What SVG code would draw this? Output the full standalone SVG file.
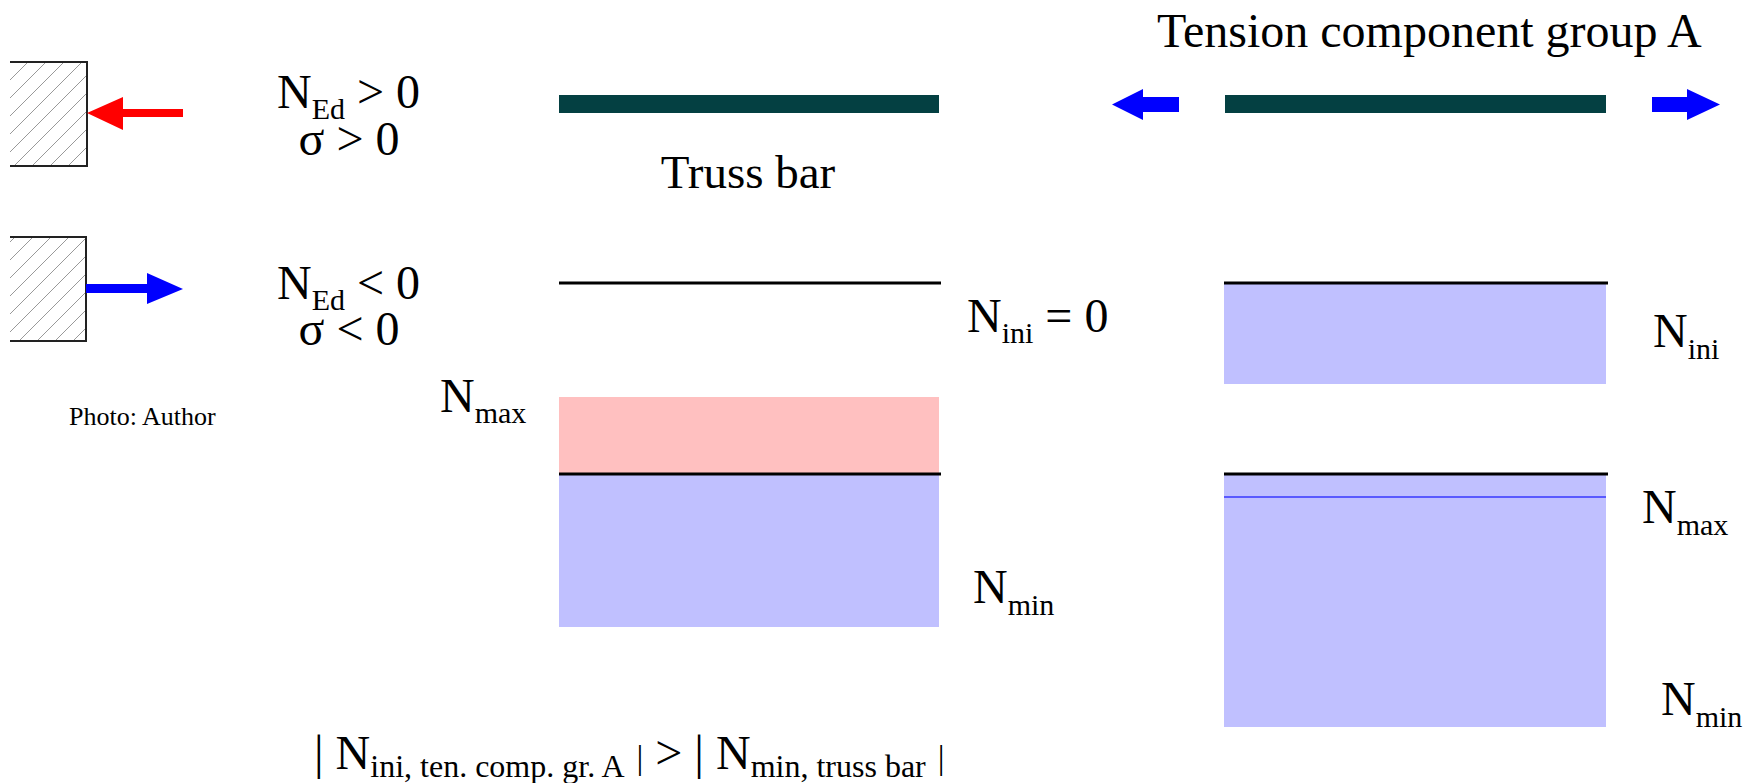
<svg xmlns="http://www.w3.org/2000/svg" width="1756" height="783" viewBox="0 0 1756 783">
<style>
.t{font-family:"Liberation Serif","Times New Roman",serif;font-size:48px;fill:#000}
.s{font-size:30px}
.bar{fill:#044042}
.blk{stroke:#000;stroke-width:3}
.box{fill:none;stroke:#222;stroke-width:2}
</style>
<defs>
<pattern id="hatch" patternUnits="userSpaceOnUse" width="18" height="18">
<path d="M-2,2 L2,-2 M0,18 L18,0 M16,20 L20,16" stroke="#999" stroke-width="1"/>
</pattern>
</defs>
<rect width="1756" height="783" fill="#fff"/>

<g id="support-compression">
<rect x="10" y="62" width="77" height="104" fill="url(#hatch)"/>
<path class="box" d="M10,62 H87 V166 H10"/>
</g>
<g id="support-tension">
<rect x="10" y="237" width="76" height="104" fill="url(#hatch)"/>
<path class="box" d="M10,237 H86 V341 H10"/>
</g>

<g id="connectors">
<polygon fill="#ff0000" points="87,113 123,97 123,109 183,109 183,117 123,117 123,130"/>
<polygon fill="#0000ff" points="86,284 147,284 147,273 183,289 147,304 147,293 86,293"/>
<polygon fill="#0000ff" points="1112,104.5 1143,89 1143,97 1179,97 1179,112 1143,112 1143,120"/>
<polygon fill="#0000ff" points="1720,104.5 1687,89 1687,97 1652,97 1652,112 1687,112 1687,120"/>
</g>

<g id="label-compression">
<text class="t" x="277" y="108">N<tspan class="s" dy="11">Ed</tspan><tspan dy="-11"> &gt; 0</tspan></text>
<text class="t" x="349" y="155" text-anchor="middle">σ &gt; 0</text>
</g>
<g id="label-tension">
<text class="t" x="277" y="299">N<tspan class="s" dy="11">Ed</tspan><tspan dy="-11"> &lt; 0</tspan></text>
<text class="t" x="349" y="345" text-anchor="middle">σ &lt; 0</text>
</g>
<g id="photo-credit">
<text class="t" x="69" y="425" style="font-size:26px">Photo: Author</text>
</g>

<g id="truss-bar">
<rect class="bar" x="559" y="95" width="380" height="18"/>
<text class="t" x="748" y="188" text-anchor="middle" style="font-size:47px">Truss bar</text>
<line class="blk" x1="559" y1="283" x2="941" y2="283"/>
<text class="t" x="967" y="332">N<tspan class="s" dy="11">ini</tspan><tspan dy="-11"> = 0</tspan></text>
<rect x="559" y="397" width="380" height="77" fill="#ffc0c0"/>
<rect x="559" y="474" width="380" height="153" fill="#c0c0ff"/>
<line class="blk" x1="559" y1="474" x2="941" y2="474"/>
<text class="t" x="440" y="412">N<tspan class="s" dy="11">max</tspan></text>
<text class="t" x="973" y="603">N<tspan class="s" dy="12">min</tspan></text>
</g>

<g id="tension-group">
<text class="t" x="1157" y="47" style="font-size:48px">Tension component group A</text>
<rect class="bar" x="1225" y="95" width="381" height="18"/>
<rect x="1224" y="283" width="382" height="101" fill="#c0c0ff"/>
<line class="blk" x1="1224" y1="283" x2="1608" y2="283"/>
<text class="t" x="1653" y="347">N<tspan class="s" dy="12">ini</tspan></text>
<rect x="1224" y="474" width="382" height="253" fill="#c0c0ff"/>
<line class="blk" x1="1224" y1="474" x2="1608" y2="474"/>
<line x1="1224" y1="497" x2="1606" y2="497" stroke="#5a5aff" stroke-width="2"/>
<text class="t" x="1642" y="523">N<tspan class="s" dy="12">max</tspan></text>
<text class="t" x="1661" y="715">N<tspan class="s" dy="12">min</tspan></text>
</g>

<g id="comparison">
<text class="t" x="314" y="769">| N<tspan style="font-size:32px" dy="8">ini, ten. comp. gr. A</tspan><tspan dy="-8"> </tspan><tspan style="font-size:34px">|</tspan> &gt; | N<tspan style="font-size:32px" dy="8">min, truss bar</tspan><tspan dy="-8"> </tspan><tspan style="font-size:34px">|</tspan></text>
</g>
</svg>
